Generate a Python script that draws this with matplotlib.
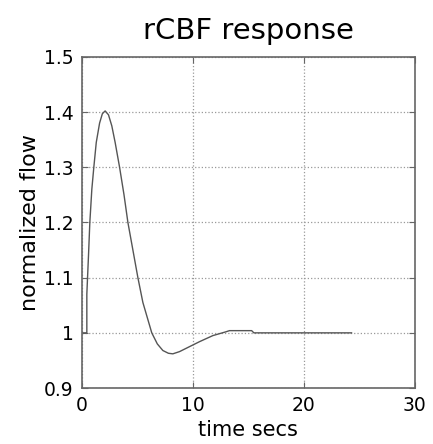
import numpy as np
import matplotlib
matplotlib.use('Agg')
import matplotlib.pyplot as plt
from matplotlib.ticker import FormatStrFormatter

# rCBF response
t_secs = [0, 0.45, 0.45, 0.6, 0.72, 0.9, 1.08, 1.3, 1.6, 1.85, 2.1, 2.4, 2.7,
          3.0, 3.4, 3.8, 4.15, 4.6, 5.05, 5.5, 6.3, 6.8, 7.3, 7.8, 8.2, 8.8,
          9.5, 10.6, 11.8, 13.0, 13.3, 15.3, 15.5, 24.3]
flow = [1.0, 1.0, 1.07, 1.14, 1.2, 1.26, 1.3, 1.345, 1.38, 1.397, 1.402, 1.395, 1.375,
        1.345, 1.3, 1.25, 1.2, 1.15, 1.1, 1.055, 1.0, 0.98, 0.968, 0.963, 0.962, 0.966,
        0.973, 0.984, 0.995, 1.002, 1.004, 1.004, 1.0, 1.0]

x_ticks = [0, 10, 20, 30]
y_ticks = [0.9, 1.0, 1.1, 1.2, 1.3, 1.4, 1.5]

fig = plt.figure(figsize=(4.33, 4.44), dpi=100)
ax = fig.add_axes([0.189, 0.126, 0.769, 0.746])

ax.plot(t_secs, flow, color='#555555', lw=1.0)

ax.set_xlim(0, 30)
ax.set_ylim(0.9, 1.5)
ax.set_xticks(x_ticks)
ax.set_yticks(y_ticks)
ax.yaxis.set_major_formatter(FormatStrFormatter('%g'))
ax.grid(True, linestyle=':', color='#999999', lw=0.9)
ax.tick_params(direction='in', labelsize=13.5, length=4, color='#666666',
               top=True, right=True, pad=6)
for s in ax.spines.values():
    s.set_color('#666666')
    s.set_linewidth(1.2)

ax.set_title('rCBF response', fontsize=21, pad=13)
ax.set_xlabel('time secs', fontsize=15, labelpad=3)
ax.set_ylabel('normalized flow', fontsize=16, labelpad=3)

fig.savefig('out.png', dpi=100)
